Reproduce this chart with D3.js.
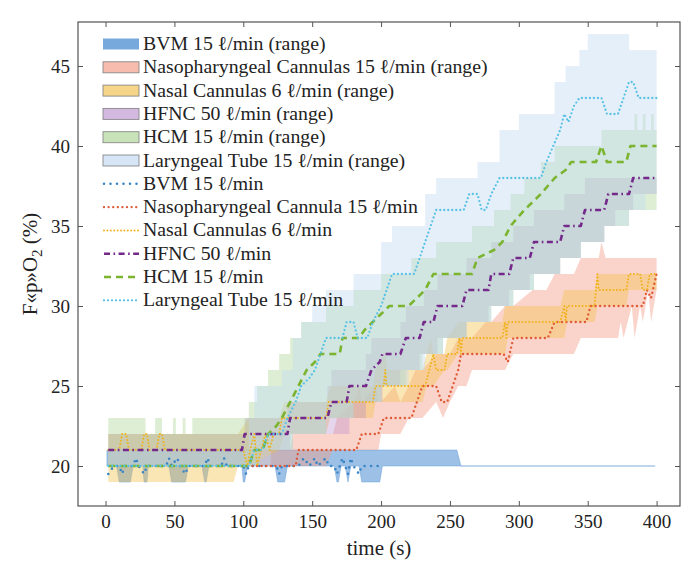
<!DOCTYPE html>
<html>
<head>
<meta charset="utf-8">
<script src="https://cdn.jsdelivr.net/npm/d3@7"></script>
<style>
body { margin: 0; background: #fff; }
text { font-family: "Liberation Serif", serif; fill: #222; }
</style>
</head>
<body>
<svg id="chart" width="694" height="561"></svg>
<script>
// ---- data: [time (s), value] and [time, min, max] ----
var xTicks = [0, 50, 100, 150, 200, 250, 300, 350, 400];
var yTicks = [20, 25, 30, 35, 40, 45];

var bvmMedian = [[2,19.5],[6,20],[10,20],[12,19.5],[14,20],[20,20],[22,20.5],[24,20],[28,19.5],[30,20],[44,20],[46,20.5],[48,20],[52,20.5],[54,20],[58,19.5],[60,20],[72,20],[74,20.5],[76,20],[84,20],[86,20.5],[88,20],[100,20],[102,19.5],[104,20],[124,20],[126,19.5],[128,20],[140,20],[144,20.5],[148,20],[152,20.5],[154,20],[160,20.5],[162,20],[166,20],[168,19.5],[170,20],[172,20.5],[174,20],[176,19.5],[178,20.5],[180,20],[184,19.5],[186,20],[198,20]];
var npcMedian = [[100,20],[138,20],[140,21],[182,21],[186,22],[198,22],[202,23],[222,23],[226,24],[230,25],[240,25],[244,24],[248,24],[252,25],[256,26],[258,27],[289,27],[292,26.5],[296,28],[321,28],[326,29],[349,29],[352,30],[390,30],[393,31],[396,30.5],[400,32]];
var nasalMedian = [[2,21],[10,21],[12,22],[15,22],[17,21],[26,21],[28,22],[30,22],[32,21],[37,21],[39,22],[41,22],[43,21],[100,21],[103,20],[105,21],[108,22],[110,20],[113,21],[116,22],[119,21],[122,22],[126,22],[128,23],[160,23],[162,24],[194,24],[196,25],[202,25],[203,26],[204,25],[232,25],[235,26],[238,27],[240,26],[246,26],[248,27],[255,27],[257,28],[258,27],[259,28],[288,28],[290,29],[291,28],[292,29],[330,29],[333,30],[334,29],[335,30],[355,30],[357,32],[358,31],[378,31],[380,32],[388,32],[390,31],[393,31],[395,32],[400,32]];
var hfncMedian = [[2,21],[99,21],[101,22],[132,22],[134,23],[161,23],[164,24],[175,24],[177,25],[189,25],[193,26],[199,26.5],[201,27],[214,27],[218,28],[228,28],[231,29],[238,29],[241,30],[259,30],[262,31],[278,31],[280,32],[293,32],[296,33],[308,33],[311,34],[330,34],[333,35],[345,35],[348,36],[362,36],[365,37],[380,37],[383,38],[400,38]];
var hcmMedian = [[2,20],[104,20],[108,21],[114,21],[118,22],[124,22.5],[128,23],[134,24],[140,25],[146,26],[152,26.5],[156,27],[170,27],[172,28],[184,28],[188,28.5],[194,29],[200,29.5],[206,30],[220,30],[226,30.5],[232,31],[238,32],[266,32],[270,33],[282,33.5],[288,34],[294,35],[304,36],[316,37],[326,38],[334,38.5],[338,39],[356,39],[360,40],[364,39],[378,39],[381,40],[400,40]];
var ltMedian = [[2,20],[104,20],[108,21],[114,21],[118,22],[128,22],[132,23],[138,24],[142,25],[148,25.5],[152,26],[156,27],[160,28],[172,28],[175,29],[180,29],[183,28],[190,28],[194,29],[200,30],[204,31],[208,32],[224,32],[228,33],[232,34],[236,35],[240,36],[260,36],[264,37],[270,37],[273,36],[276,36],[280,37],[286,38],[316,38],[320,39],[325,40],[330,41],[333,42],[336,41.5],[340,42.5],[344,43],[360,43],[364,42],[372,42],[376,43],[380,44],[383,44],[387,43],[400,43]];

// ranges drawn point to point
var bvmRange = [[1,20,21],[8,20,21],[10,19,21],[18,19,21],[20,20,21],[27,20,21],[28,19,21],[30,19,21],[31,20,21],[46,20,21],[48,19,21],[58,19,21],[60,20,21],[70,20,21],[72,19,21],[73,19,21],[75,20,21],[99,20,21],[100,19,21],[101,19,21],[103,20,21],[123,20,21],[125,19,21],[130,19,21],[132,20,21],[166,20,21],[168,19,21],[169,19,21],[171,20,21],[174,20,21],[176,19,21],[178,20,21],[184,20,21],[186,19,21],[199,19,21],[201,20,21],[255,20,21],[258,20,20],[399,20,20]];
var npcRange = [[100,20,21],[134,20,21],[136,20,22],[160,20,22],[165,21,22],[168,21,23],[180,21,24],[184,21,25],[186,21,24],[196,21,25],[198,21,24],[200,22,24],[210,22,25],[214,22,24],[220,23,25],[225,23,26],[230,23,26],[240,24,27],[245,23,27],[250,24,27],[256,25,28],[262,25,28],[266,26,28],[276,26,29],[280,26,29],[290,26,30],[296,27,30],[310,27,31],[320,27,31],[326,27,32],[340,27,32],[345,28,33],[358,28,33],[360,28,34],[363,28,33],[372,28,33],[374,29,33],[376,28,33],[382,30,33],[384,28,33],[388,30,33],[390,29,33],[394,31,33],[396,29,33],[400,31,33]];
var nasalRange = [[2,19,22],[93,19,22],[96,20,22],[104,20,23],[126,21,23],[130,22,24],[160,22,24],[163,23,25],[194,23,25],[196,24,26],[203,24,27],[205,24,26],[230,24,26],[233,25,27],[236,25,28],[238,25,27],[246,26,27],[248,26,28],[256,27,29],[288,27,29],[290,27,30],[292,28,30],[330,28,30],[333,28,31],[335,29,31],[355,29,31],[357,30,32],[378,30,32],[380,31,32],[400,31,32]];
// ranges held until the next row (staircase)
var hfncRange = [[2,20,22],[101,21,23],[132,21,24],[134,22,24],[161,22,25],[164,22,26],[177,23,26],[189,24,27],[193,24,28],[201,25,28],[214,26,29],[218,26,30],[228,27,30],[231,27,31],[241,28,32],[262,29,33],[278,30,33],[280,30,34],[293,31,34],[296,31,35],[308,32,35],[311,32,36],[330,33,36],[333,33,37],[345,34,37],[348,34,38],[362,35,38],[370,36,38],[383,37,38],[400,37,38]];
var hcmRange = [[2,20,23],[29,20,22],[36,20,23],[41,20,22],[49,20,23],[51,20,22],[56,20,23],[58,20,22],[63,20,23],[104,20,24],[110,20,25],[112,21,25],[118,21,26],[126,21,27],[134,21,28],[136,22,28],[142,22,29],[160,23,30],[180,24,31],[200,25,32],[218,26,32],[222,26,33],[230,27,33],[240,27,34],[245,28,34],[262,29,34],[266,29,35],[280,30,35],[282,30,36],[294,30,37],[296,31,37],[304,31,38],[311,32,38],[316,32,39],[326,32,40],[330,33,40],[345,34,40],[360,34,41],[362,35,41],[380,36,41],[384,36,42],[386,36,41],[390,36,42],[392,36,41],[396,36,42],[398,36,41],[400,36,41]];
var ltRange = [[2,20,21],[104,20,23],[108,20,25],[120,21,25],[128,21,26],[136,22,28],[142,22,29],[150,22,30],[160,23,31],[180,24,32],[200,25,34],[208,25,35],[220,26,35],[232,27,37],[240,27,38],[245,28,38],[262,29,38],[270,29,39],[280,30,39],[286,30,41],[296,31,41],[300,31,42],[311,32,42],[326,32,44],[330,33,44],[334,33,45],[344,33,46],[345,34,46],[350,34,47],[362,35,47],[380,36,46],[392,37,46],[400,37,46]];

var rangeNames = ["BVM 15 \u2113/min (range)", "Nasopharyngeal Cannulas 15 \u2113/min (range)", "Nasal Cannulas 6 \u2113/min (range)", "HFNC 50 \u2113/min (range)", "HCM 15 \u2113/min (range)", "Laryngeal Tube 15 \u2113/min (range)"];
var lineNames = ["BVM 15 \u2113/min", "Nasopharyngeal Cannula 15 \u2113/min", "Nasal Cannulas 6 \u2113/min", "HFNC 50 \u2113/min", "HCM 15 \u2113/min", "Laryngeal Tube 15 \u2113/min"];

// ---- styles ----
var ranges = [
    {data: bvmRange,   fill: "#5f9ad6", op: 0.62, edge: "none", curve: d3.curveLinear},
    {data: npcRange,   fill: "#f4a08a", op: 0.45, edge: "#888", curve: d3.curveLinear},
    {data: nasalRange, fill: "#f2c04e", op: 0.42, edge: "#888", curve: d3.curveLinear},
    {data: hfncRange,  fill: "#b78ccc", op: 0.36, edge: "#888", curve: d3.curveStepAfter},
    {data: hcmRange,   fill: "#abd494", op: 0.40, edge: "#888", curve: d3.curveStepAfter},
    {data: ltRange,    fill: "#c2daf3", op: 0.42, edge: "#888", curve: d3.curveStepAfter}
];
var lines = [
    {data: bvmMedian,   color: "#3a85c6", width: 2.6, dash: "0 6.5",       cap: "round"},
    {data: npcMedian,   color: "#df5a36", width: 2.4, dash: "0 4.6",       cap: "round"},
    {data: nasalMedian, color: "#f0b21c", width: 2.0, dash: "0 3.4",       cap: "round"},
    {data: hfncMedian,  color: "#74288a", width: 2.6, dash: "6 3.5 1.6 3.5", cap: "butt"},
    {data: hcmMedian,   color: "#7bb42e", width: 2.6, dash: "7 5",         cap: "butt"},
    {data: ltMedian,    color: "#57c2e3", width: 2.3, dash: "0 4",         cap: "round"}
];

var svg = d3.select('#chart');
var x = d3.scaleLinear().domain([-20, 417]).range([78, 680]);
var y = d3.scaleLinear().domain([17.5, 47.75]).range([506, 22]);

var g = svg.append('g');

// range bands
ranges.forEach(function(r, i){
    var area = d3.area()
        .curve(r.curve)
        .x(function(d){ return x(d[0]); })
        .y0(function(d){ return y(d[1]); })
        .y1(function(d){ return y(d[2]); });
    g.append('path')
        .attr('d', area(r.data))
        .attr('fill', r.fill)
        .attr('fill-opacity', r.op)
        .attr('stroke', i == 0 ? r.fill : 'none')
        .attr('stroke-opacity', 0.45)
        .attr('stroke-width', 1);
});

// median lines
var line = d3.line()
    .x(function(d){ return x(d[0]); })
    .y(function(d){ return y(d[1]); });
lines.forEach(function(l){
    g.append('path')
        .attr('d', line(l.data))
        .attr('fill', 'none')
        .attr('stroke', l.color)
        .attr('stroke-width', l.width)
        .attr('stroke-dasharray', l.dash)
        .attr('stroke-linecap', l.cap)
        .attr('stroke-linejoin', 'round');
});

// frame with inward ticks on all sides
svg.append('rect')
    .attr('x', 78).attr('y', 22)
    .attr('width', 602).attr('height', 484)
    .attr('fill', 'none').attr('stroke', '#444').attr('stroke-width', 1.1);

function styleAxis(sel) {
    sel.select('.domain').remove();
    sel.selectAll('.tick line').attr('stroke', '#555');
    sel.selectAll('.tick text').style('font-size', '19px').attr('fill', '#222');
}
svg.append('g').attr('transform', 'translate(0,506)')
    .call(d3.axisBottom(x).tickValues(xTicks).tickSize(-5).tickPadding(9))
    .call(styleAxis);
svg.append('g').attr('transform', 'translate(0,22)')
    .call(d3.axisTop(x).tickValues(xTicks).tickSize(-5).tickFormat(''))
    .call(styleAxis);
svg.append('g').attr('transform', 'translate(78,0)')
    .call(d3.axisLeft(y).tickValues(yTicks).tickSize(-5).tickPadding(8))
    .call(styleAxis);
svg.append('g').attr('transform', 'translate(680,0)')
    .call(d3.axisRight(y).tickValues(yTicks).tickSize(-5).tickFormat(''))
    .call(styleAxis);

// axis titles
svg.append('text')
    .attr('x', 379).attr('y', 555)
    .attr('text-anchor', 'middle')
    .style('font-size', '21px')
    .text('time (s)');
var yl = svg.append('text')
    .attr('transform', 'translate(37,264) rotate(-90)')
    .attr('text-anchor', 'middle')
    .style('font-size', '21px');
yl.append('tspan').text('F\u00abp\u00bbO');
yl.append('tspan').attr('dy', 5).style('font-size', '15px').text('2');
yl.append('tspan').attr('dy', -5).text(' (%)');

// legend
var leg = svg.append('g');
var rowY = 44, rowStep = 23.3;
ranges.forEach(function(r, i){
    var cy = rowY + i * rowStep;
    leg.append('rect')
        .attr('x', 103).attr('y', cy - 5.5)
        .attr('width', 36).attr('height', 11)
        .attr('fill', r.fill).attr('fill-opacity', i == 0 ? 0.85 : Math.min(1, r.op + 0.25))
        .attr('stroke', r.edge).attr('stroke-width', 0.9);
    leg.append('text')
        .attr('x', 143).attr('y', cy + 6)
        .style('font-size', '19.8px')
        .text(rangeNames[i]);
});
lines.forEach(function(l, i){
    var cy = rowY + (i + 6) * rowStep;
    leg.append('line')
        .attr('x1', 104).attr('x2', 139)
        .attr('y1', cy).attr('y2', cy)
        .attr('stroke', l.color)
        .attr('stroke-width', l.width)
        .attr('stroke-dasharray', l.dash)
        .attr('stroke-linecap', l.cap);
    leg.append('text')
        .attr('x', 143).attr('y', cy + 6)
        .style('font-size', '19.8px')
        .text(lineNames[i]);
});
</script>
</body>
</html>
